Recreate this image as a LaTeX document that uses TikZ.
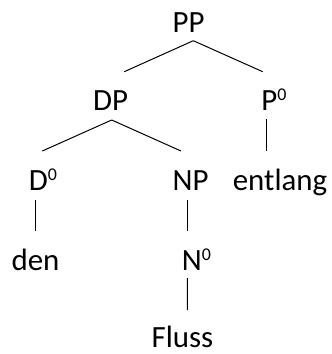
\documentclass[tikz,border=0pt]{standalone}
\usepackage{fontspec}
\setmainfont{Carlito}
% raised small zero for bar-level labels
\newcommand\zerosup{\raisebox{10bp}{\fontsize{18}{18}\selectfont 0}}
\begin{document}
\begin{tikzpicture}[x=1bp,y=-1bp,
  lab/.style={inner sep=0pt, anchor=base, font=\fontsize{31}{37}\selectfont},
  edge/.style={line width=1bp}]
\useasboundingbox (0,0) rectangle (332,354);
% labels, placed by their baselines
\node[lab] (PP) at (188.5,32) {PP};
\node[lab] (DP) at (110.5,110) {DP};
\node[lab] (P0) at (274,110) {P\zerosup};
\node[lab] (D0) at (43,190) {D\zerosup};
\node[lab] (NP) at (190.5,190) {NP};
\node[lab] (entlang) at (280,190) {entlang};
\node[lab] (den) at (35.5,270) {den};
\node[lab] (N0) at (196.5,270) {N\zerosup};
\node[lab] (Fluss) at (182.5,347.5) {Fluss};
% branches
\draw[edge] ([shift={(4.8,8.7)}]PP.base) -- ([shift={(13.8,-38.3)}]DP.base);
\draw[edge] ([shift={(4.8,8.7)}]PP.base) -- ([shift={(-11.3,-38.3)}]P0.base);
\draw[edge] ([shift={(1.2,10)}]DP.base) -- ([shift={(-0.7,-39)}]D0.base);
\draw[edge] ([shift={(1.2,10)}]DP.base) -- ([shift={(-9.5,-39)}]NP.base);
\draw[edge] ([shift={(-7.3,9)}]P0.base) -- ([shift={(-13.3,-39)}]entlang.base);
\draw[edge] ([shift={(-8,10)}]D0.base) -- ([shift={(-0.5,-39)}]den.base);
\draw[edge] ([shift={(-3.2,10)}]NP.base) -- ([shift={(-9.2,-39)}]N0.base);
\draw[edge] ([shift={(-9.2,8)}]N0.base) -- ([shift={(4.8,-37.5)}]Fluss.base);
\end{tikzpicture}
\end{document}
